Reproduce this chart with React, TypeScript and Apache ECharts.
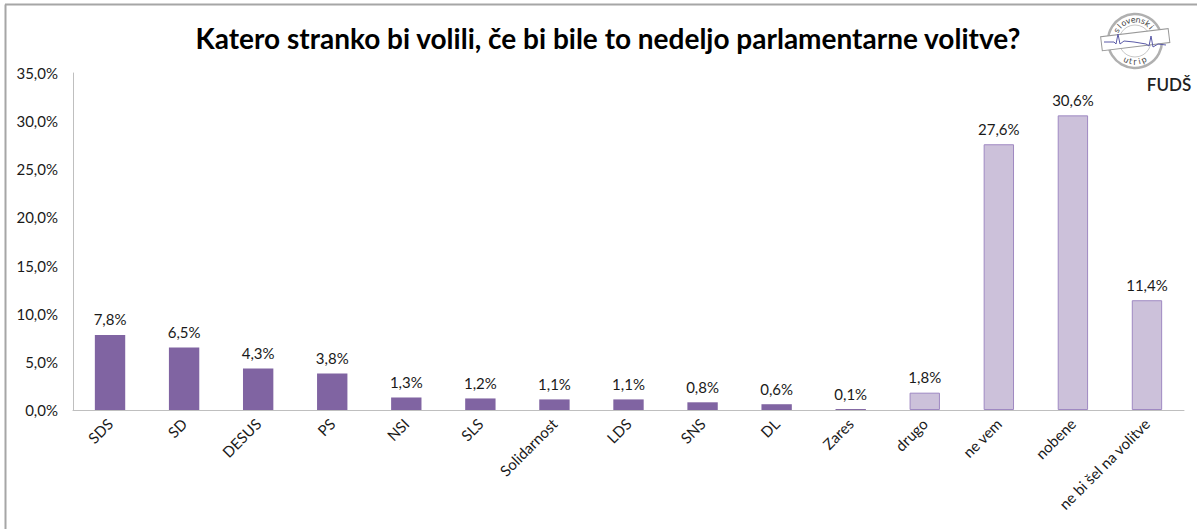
import React, { useEffect, useRef } from "react";
import * as echarts from "echarts";

const categories = ["SDS", "SD", "DESUS", "PS", "NSI", "SLS", "Solidarnost", "LDS", "SNS", "DL", "Zares", "drugo", "ne vem", "nobene", "ne bi šel na volitve"];
const values = [7.8, 6.5, 4.3, 3.8, 1.3, 1.2, 1.1, 1.1, 0.8, 0.6, 0.1, 1.8, 27.6, 30.6, 11.4];
const lightStart = 11;
const titleText = "Katero stranko bi volili, če bi bile to nedeljo parlamentarne volitve?";

const fmt = (v: number) => v.toFixed(1).replace(".", ",") + "%";

function arcText(text: string, cx: number, cy: number, r: number, startDeg: number, endDeg: number, top: boolean) {
  const n = text.length;
  return text.split("").map((ch, i) => {
    const t = n === 1 ? 0.5 : i / (n - 1);
    const deg = startDeg + (endDeg - startDeg) * t;
    const a = (deg * Math.PI) / 180;
    const x = cx + r * Math.cos(a);
    const y = cy + r * Math.sin(a);
    const rot = top ? -(a + Math.PI / 2) : -(a - Math.PI / 2);
    return {
      type: "text",
      x,
      y,
      rotation: rot,
      style: { text: ch, fontSize: 8, fill: "#444", align: "center", verticalAlign: "middle", fontFamily: "DejaVu Sans" },
    };
  });
}

export default function App() {
  const ref = useRef<HTMLDivElement>(null);
  useEffect(() => {
    if (!ref.current) return;
    const chart = echarts.init(ref.current, undefined, { renderer: "svg" });
    const data = values.map((v, i) => ({
      value: v,
      itemStyle: i >= lightStart
        ? { color: "#CCC1DA", borderColor: "#9F89C2", borderWidth: 1 }
        : { color: "#8064A2" },
    }));
    const cx = 1135, cy = 41;
    chart.setOption({
      animation: false,
      backgroundColor: "#fff",
      textStyle: { fontFamily: "Lato" },
      title: {
        text: titleText,
        left: 603,
        textAlign: "center",
        top: 19,
        textStyle: { fontFamily: "Lato", fontSize: 28, fontWeight: "bold", color: "#000" },
      },
      grid: { left: 73, top: 73, right: 13, bottom: 119 },
      xAxis: {
        type: "category",
        data: categories,
        axisLine: { lineStyle: { color: "#BFBFBF", width: 1 } },
        axisTick: { show: false },
        axisLabel: { rotate: 45, interval: 0, margin: 11, fontSize: 15, color: "#1a1a1a", fontFamily: "Lato" },
      },
      yAxis: {
        type: "value",
        min: 0,
        max: 35,
        interval: 5,
        splitLine: { show: false },
        axisLine: { show: true, lineStyle: { color: "#BFBFBF", width: 1 } },
        axisTick: { show: false },
        axisLabel: { formatter: (v: number) => fmt(v), fontSize: 15, color: "#1a1a1a", margin: 15, fontFamily: "Lato" },
      },
      series: [
        {
          type: "bar",
          data,
          barWidth: "41%",
          label: {
            show: true,
            position: "top",
            distance: 8,
            formatter: (p: any) => fmt(p.value),
            fontSize: 15,
            color: "#1a1a1a",
            fontFamily: "Lato",
          },
        },
      ],
      graphic: [
        { type: "line", shape: { x1: 5.5, y1: 4.5, x2: 5.5, y2: 529 }, style: { stroke: "#A6A6A6", lineWidth: 2 } },
        { type: "line", shape: { x1: 5, y1: 4.5, x2: 1197, y2: 4.5 }, style: { stroke: "#A6A6A6", lineWidth: 2 } },
        { type: "circle", shape: { cx, cy, r: 27 }, style: { fill: "#fff", stroke: "#B0B0B0", lineWidth: 2.5 } },
        { type: "circle", shape: { cx, cy, r: 16 }, style: { fill: "none", stroke: "#C8C8C8", lineWidth: 1 } },
        ...arcText("slovenski", cx, cy, 21, -150, -40, true),
        ...arcText("utrip", cx, cy, 21, 115, 65, false),
        { type: "rect", shape: { x: 1101, y: 33, width: 68, height: 14 }, rotation: 0.12, originX: cx, originY: 40, style: { fill: "#fff", stroke: "#999", lineWidth: 1 } },
        { type: "polyline", shape: { points: [[1104, 42], [1114, 42], [1116, 44], [1118, 34], [1120, 44], [1124, 41], [1134, 42], [1146, 44], [1149, 46], [1151, 36], [1153, 47], [1158, 44], [1166, 45]] }, style: { stroke: "#5B5BA8", lineWidth: 1, fill: "none" } },
        { type: "text", x: 1169, y: 84, style: { text: "FUDŠ", fontSize: 17, fill: "#222", align: "center", verticalAlign: "middle", fontFamily: "Lato", fontWeight: 600 } },
      ],
    });
    return () => chart.dispose();
  }, []);
  return <div ref={ref} style={{ width: 1197, height: 529, position: "absolute", left: 0, top: 0 }} />;
}
